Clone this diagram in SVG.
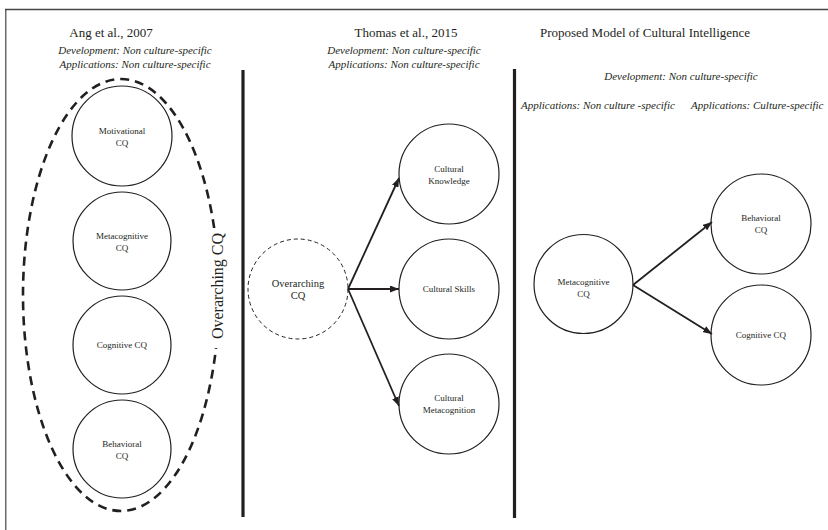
<svg xmlns="http://www.w3.org/2000/svg" width="828" height="530" viewBox="0 0 828 530">
<defs>
<style>
.t{font-family:"Liberation Serif","Times New Roman",serif;fill:#231f20}
.title{font-size:13px;text-anchor:middle}
.sub{font-size:11px;font-style:italic}
.lbl{font-size:9px;text-anchor:middle}
.c{fill:#fff;stroke:#231f20;stroke-width:1.2}
.div{stroke:#231f20;stroke-width:3.2}
.arr{stroke:#231f20;stroke-width:1.8;fill:none;marker-end:url(#ah)}
</style>
<marker id="ah" markerUnits="userSpaceOnUse" markerWidth="9" markerHeight="7" refX="9" refY="3.5" orient="auto">
<path d="M0,0 L9,3.5 L0,7 z" fill="#231f20"/>
</marker>
</defs>
<rect width="828" height="530" fill="#fff"/>
<g id="frame">
<line x1="5" y1="9.5" x2="828" y2="9.5" stroke="#444" stroke-width="1.6"/>
<line x1="5.8" y1="9" x2="5.8" y2="530" stroke="#444" stroke-width="1.2"/>
<line class="div" x1="243" y1="70" x2="243" y2="517"/>
<line class="div" x1="514.5" y1="69" x2="514.5" y2="518"/>
</g>
<g id="headings">
<text class="t title" x="111" y="37">Ang et al., 2007</text>
<text class="t sub" x="135" y="54" text-anchor="middle">Development: Non culture-specific</text>
<text class="t sub" x="135" y="68" text-anchor="middle">Applications: Non culture-specific</text>
<text class="t title" x="406" y="37">Thomas et al., 2015</text>
<text class="t sub" x="404" y="54" text-anchor="middle">Development: Non culture-specific</text>
<text class="t sub" x="404" y="68" text-anchor="middle">Applications: Non culture-specific</text>
<text class="t title" x="645" y="37">Proposed Model of Cultural Intelligence</text>
<text class="t sub" x="681" y="80" text-anchor="middle">Development: Non culture-specific</text>
<text class="t sub" x="521" y="109">Applications: Non culture -specific</text>
<text class="t sub" x="691" y="109">Applications: Culture-specific</text>
</g>
<g id="overarching-ang">
<ellipse cx="121" cy="295" rx="98" ry="216" fill="none" stroke="#231f20" stroke-width="2.6" stroke-dasharray="9 6"/>
<rect x="208" y="228" width="21" height="120" fill="#fff"/>
<text class="t" transform="translate(223,286) rotate(-90)" font-size="16" text-anchor="middle">Overarching CQ</text>
</g>
<g id="ang-motivational">
<circle class="c" cx="122" cy="136" r="50"/>
<text class="t lbl" x="122" y="134">Motivational</text>
<text class="t lbl" x="122" y="145.5">CQ</text>
</g>
<g id="ang-metacognitive">
<circle class="c" cx="122" cy="241" r="49"/>
<text class="t lbl" x="122" y="239">Metacognitive</text>
<text class="t lbl" x="122" y="250.5">CQ</text>
</g>
<g id="ang-cognitive">
<circle class="c" cx="122" cy="345" r="49"/>
<text class="t lbl" x="122" y="348">Cognitive CQ</text>
</g>
<g id="ang-behavioral">
<circle class="c" cx="122" cy="449" r="49"/>
<text class="t lbl" x="122" y="447">Behavioral</text>
<text class="t lbl" x="122" y="458.5">CQ</text>
</g>
<g id="thomas-overarching">
<circle cx="298" cy="289" r="50" fill="#fff" stroke="#231f20" stroke-width="1" stroke-dasharray="4 3"/>
<text class="t" x="298" y="287" font-size="10.5" text-anchor="middle">Overarching</text>
<text class="t" x="298" y="299" font-size="10.5" text-anchor="middle">CQ</text>
</g>
<g id="thomas-knowledge">
<circle class="c" cx="449" cy="174" r="50"/>
<text class="t lbl" x="449" y="172">Cultural</text>
<text class="t lbl" x="449" y="183.5">Knowledge</text>
</g>
<g id="thomas-skills">
<circle class="c" cx="449" cy="289" r="50"/>
<text class="t lbl" x="449" y="292">Cultural Skills</text>
</g>
<g id="thomas-metacognition">
<circle class="c" cx="449" cy="404" r="50"/>
<text class="t lbl" x="449" y="401">Cultural</text>
<text class="t lbl" x="449" y="412.5">Metacognition</text>
</g>
<g id="proposed-metacognitive">
<circle class="c" cx="583.5" cy="284" r="49.5"/>
<text class="t lbl" x="583.5" y="285">Metacognitive</text>
<text class="t lbl" x="583.5" y="296.5">CQ</text>
</g>
<g id="proposed-behavioral">
<circle class="c" cx="761" cy="224" r="50"/>
<text class="t lbl" x="761" y="221">Behavioral</text>
<text class="t lbl" x="761" y="232.5">CQ</text>
</g>
<g id="proposed-cognitive">
<circle class="c" cx="761" cy="335" r="50"/>
<text class="t lbl" x="761" y="338">Cognitive CQ</text>
</g>
<g id="connectors">
<line class="arr" x1="348" y1="289" x2="399" y2="178"/>
<line class="arr" x1="348" y1="289" x2="399" y2="289"/>
<line class="arr" x1="348" y1="289" x2="399" y2="406"/>
<line class="arr" x1="633" y1="285" x2="712" y2="222"/>
<line class="arr" x1="633" y1="285" x2="712" y2="334"/>
</g>
</svg>
